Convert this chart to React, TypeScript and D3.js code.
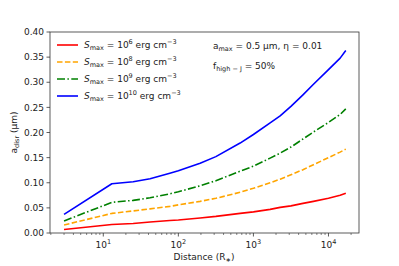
import React from 'react';
import * as d3 from 'd3';

const distances = [3, 13, 25, 42, 77, 100, 195, 316, 665, 1000, 1670, 2270, 3160, 4570, 6310, 10000, 14300, 17000];
const s1e6 = [0.007, 0.017, 0.019, 0.022, 0.025, 0.026, 0.030, 0.033, 0.039, 0.042, 0.047, 0.051, 0.054, 0.059, 0.063, 0.069, 0.075, 0.079];
const s1e8 = [0.016, 0.039, 0.044, 0.048, 0.053, 0.056, 0.063, 0.069, 0.081, 0.089, 0.100, 0.107, 0.116, 0.126, 0.136, 0.150, 0.161, 0.167];
const s1e9 = [0.024, 0.061, 0.065, 0.070, 0.078, 0.082, 0.094, 0.104, 0.123, 0.133, 0.149, 0.159, 0.171, 0.187, 0.201, 0.220, 0.236, 0.247];
const s1e10 = [0.037, 0.098, 0.102, 0.108, 0.119, 0.124, 0.139, 0.152, 0.179, 0.196, 0.219, 0.233, 0.252, 0.275, 0.296, 0.325, 0.348, 0.363];

const seriesExp = ['6', '8', '9', '10'];
const yTicks = [0, 0.05, 0.1, 0.15, 0.2, 0.25, 0.3, 0.35, 0.4];
const xMajor = [10, 100, 1000, 10000];
const xMajorExp = ['1', '2', '3', '4'];

const W = 399;
const H = 266;
const FONT = 'DejaVu Sans, sans-serif';

const series = [
  { values: s1e6, color: 'red', dash: null as string | null },
  { values: s1e8, color: 'orange', dash: '5.5,2.4' },
  { values: s1e9, color: 'green', dash: '8,2.4,1.5,2.4' },
  { values: s1e10, color: 'blue', dash: null as string | null },
];

const App: React.FC = () => {
  const margin = { top: 32, right: 40, bottom: 33, left: 50 };
  const x = d3.scaleLog().domain([1.95, 25500]).range([margin.left, W - margin.right]);
  const y = d3.scaleLinear().domain([0, 0.4]).range([H - margin.bottom, margin.top]);

  const line = d3.line<[number, number]>()
    .x(d => x(d[0]))
    .y(d => y(d[1]));

  // minor log ticks
  const minor: number[] = [];
  [1, 10, 100, 1000, 10000].forEach(p => {
    for (let k = 2; k <= 9; k++) {
      const v = k * p;
      if (v > x.domain()[0] && v < x.domain()[1]) minor.push(v);
    }
  });

  const axisColor = '#333';
  const bottom = H - margin.bottom;
  const right = W - margin.right;

  return (
    <svg width={W} height={H} style={{ position: 'absolute', left: 0, top: 0, background: '#fff' }}
      fontFamily={FONT}>
      {/* lines */}
      {series.map((s, i) => (
        <path key={i}
          d={line(distances.map((d, j) => [d, s.values[j]] as [number, number])) || ''}
          fill="none" stroke={s.color} strokeWidth={1.6} strokeLinejoin="round"
          strokeDasharray={s.dash || undefined} />
      ))}

      {/* frame */}
      <rect x={margin.left} y={margin.top} width={right - margin.left} height={bottom - margin.top}
        fill="none" stroke={axisColor} strokeWidth={0.8} />

      {/* y axis */}
      {yTicks.map(t => (
        <g key={t}>
          <line x1={margin.left - 3.5} x2={margin.left} y1={y(t)} y2={y(t)} stroke={axisColor} strokeWidth={0.8} />
          <text x={margin.left - 6} y={y(t)} dy="0.35em" textAnchor="end" fontSize={9} fill="#222">
            {t.toFixed(2)}
          </text>
        </g>
      ))}

      {/* x axis */}
      {minor.map(t => (
        <line key={t} x1={x(t)} x2={x(t)} y1={bottom} y2={bottom + 2} stroke={axisColor} strokeWidth={0.6} />
      ))}
      {xMajor.map((t, i) => (
        <g key={t}>
          <line x1={x(t)} x2={x(t)} y1={bottom} y2={bottom + 3.5} stroke={axisColor} strokeWidth={0.8} />
          <text x={x(t)} y={bottom + 15} textAnchor="middle" fontSize={9} fill="#222">
            10<tspan fontSize={6.5} dy={-4}>{xMajorExp[i]}</tspan>
          </text>
        </g>
      ))}

      {/* axis labels */}
      <text x={204} y={260} textAnchor="middle" fontSize={9} fill="#222">
        Distance (R<tspan fontSize={6.5} dy={2}>∗</tspan><tspan dy={-2}>)</tspan>
      </text>
      <text transform={`translate(17,${(margin.top + bottom) / 2}) rotate(-90)`} textAnchor="middle" fontSize={9} fill="#222">
        a<tspan fontSize={6.5} dy={2}>disr</tspan><tspan dy={-2}> (μm)</tspan>
      </text>

      {/* legend */}
      {series.map((s, i) => {
        const ly = 45 + i * 17;
        return (
          <g key={i}>
            <line x1={57} x2={78} y1={ly} y2={ly} stroke={s.color} strokeWidth={1.6}
              strokeDasharray={s.dash || undefined} />
            <text x={84} y={ly + 3.2} fontSize={9} fill="#222">
              <tspan fontStyle="italic">S</tspan>
              <tspan fontSize={6.5} dy={2}>max</tspan>
              <tspan dy={-2}> = 10</tspan>
              <tspan fontSize={6.5} dy={-4}>{seriesExp[i]}</tspan>
              <tspan dy={4}> erg cm</tspan>
              <tspan fontSize={6.5} dy={-4}>−3</tspan>
            </text>
          </g>
        );
      })}

      {/* annotations */}
      <text x={213} y={49} fontSize={9} fill="#222">
        a<tspan fontSize={6.5} dy={2}>max</tspan><tspan dy={-2}> = 0.5 μm, η = 0.01</tspan>
      </text>
      <text x={213} y={69} fontSize={9} fill="#222">
        f<tspan fontSize={6.5} dy={2}>high − J</tspan><tspan dy={-2}> = 50%</tspan>
      </text>
    </svg>
  );
};

export default App;
